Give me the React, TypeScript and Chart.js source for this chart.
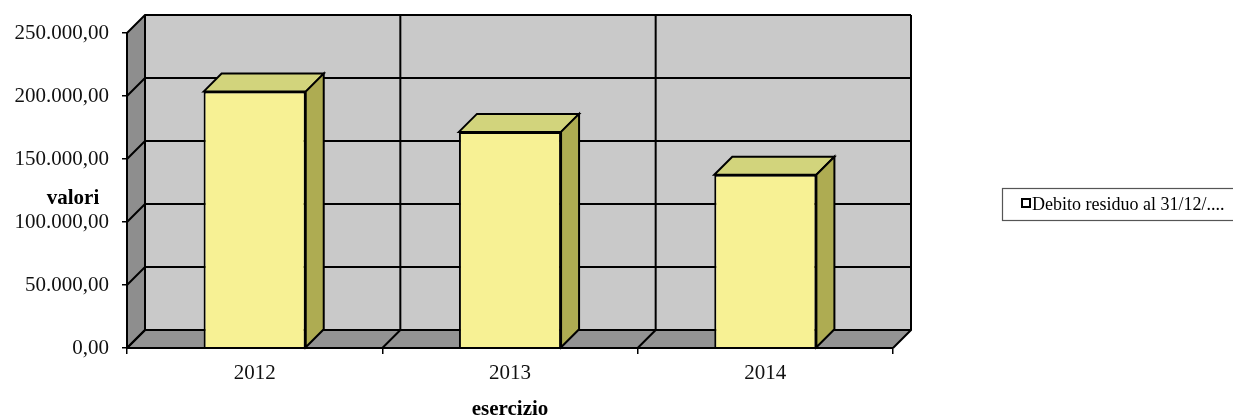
import React, { useEffect, useRef } from 'react';
import { Chart, registerables } from 'chart.js';

Chart.register(...registerables);

const categories = ['2012', '2013', '2014'];
const debitoResiduo = [203500, 171500, 137500];
const yTickValues = [0, 50000, 100000, 150000, 200000, 250000];
const seriesLabel = 'Debito residuo al 31/12/....';
const yTitle = 'valori';
const xTitle = 'esercizio';

const DX = 18;
const DY = 18;
const FONT = '"Liberation Serif", "Times New Roman", serif';

const fmt = (v: number) => {
  const [i, d] = v.toFixed(2).split('.');
  return i.replace(/\B(?=(\d{3})+(?!\d))/g, '.') + ',' + d;
};

const poly = (ctx: CanvasRenderingContext2D, pts: number[][], fill?: string, stroke?: string, lw = 1.5) => {
  ctx.beginPath();
  ctx.moveTo(pts[0][0], pts[0][1]);
  for (let i = 1; i < pts.length; i++) ctx.lineTo(pts[i][0], pts[i][1]);
  ctx.closePath();
  if (fill) { ctx.fillStyle = fill; ctx.fill(); }
  if (stroke) { ctx.strokeStyle = stroke; ctx.lineWidth = lw; ctx.stroke(); }
};

const line = (ctx: CanvasRenderingContext2D, pts: number[][], color = '#000', lw = 1.5) => {
  ctx.beginPath();
  ctx.moveTo(pts[0][0], pts[0][1]);
  for (let i = 1; i < pts.length; i++) ctx.lineTo(pts[i][0], pts[i][1]);
  ctx.strokeStyle = color;
  ctx.lineWidth = lw;
  ctx.stroke();
};

const threeD = {
  id: 'threeD',
  beforeDatasetsDraw(chart: any) {
    const { ctx, chartArea } = chart;
    const { left, right, top, bottom } = chartArea;
    const y = chart.scales.y;
    ctx.save();
    // back wall
    ctx.fillStyle = '#c9c9c9';
    ctx.fillRect(left + DX, top - DY, right - left, bottom - top);
    // left wall
    poly(ctx, [[left, top], [left + DX, top - DY], [left + DX, bottom - DY], [left, bottom]], '#8e8e8e');
    // floor
    poly(ctx, [[left, bottom], [left + DX, bottom - DY], [right + DX, bottom - DY], [right, bottom]], '#939393');
    // horizontal gridlines
    yTickValues.forEach((v) => {
      const py = y.getPixelForValue(v);
      line(ctx, [[left, py], [left + DX, py - DY], [right + DX, py - DY]], '#000', 2);
    });
    // category separators
    const n = categories.length;
    const w = (right - left) / n;
    for (let i = 0; i <= n; i++) {
      const bx = left + i * w;
      line(ctx, [[bx + DX, top - DY], [bx + DX, bottom - DY], [bx, bottom]], '#000', 2);
    }
    ctx.restore();
  },
  afterDatasetsDraw(chart: any) {
    const { ctx, chartArea } = chart;
    const { left, right, top, bottom } = chartArea;
    ctx.save();
    const meta = chart.getDatasetMeta(0);
    meta.data.forEach((bar: any) => {
      const p = bar.getProps(['x', 'y', 'base', 'width'], true);
      const l = p.x - p.width / 2;
      const r = p.x + p.width / 2;
      poly(ctx, [[l, p.y], [l + DX, p.y - DY], [r + DX, p.y - DY], [r, p.y]], '#d2d47c', '#000', 2);
      poly(ctx, [[r, p.y], [r + DX, p.y - DY], [r + DX, p.base - DY], [r, p.base]], '#aeac52', '#000', 2);
    });
    // front axes
    line(ctx, [[left, top], [left, bottom], [right, bottom]], '#000', 2);
    // axis titles
    ctx.fillStyle = '#000';
    ctx.font = 'bold 21px ' + FONT;
    ctx.textAlign = 'center';
    ctx.textBaseline = 'middle';
    ctx.fillText(yTitle, 73, 199);
    ctx.fillText(xTitle, (left + right) / 2, 410);
    // legend
    ctx.fillStyle = '#ffffff';
    ctx.fillRect(1002, 188, 240, 32);
    ctx.strokeStyle = '#555';
    ctx.lineWidth = 1.2;
    ctx.strokeRect(1002.5, 188.5, 240, 32);
    ctx.fillStyle = '#ffffff';
    ctx.fillRect(1021, 198, 9, 9);
    ctx.strokeStyle = '#000';
    ctx.lineWidth = 2;
    ctx.strokeRect(1022, 199, 8, 8);
    ctx.fillStyle = '#000';
    ctx.font = '18px ' + FONT;
    ctx.textAlign = 'left';
    ctx.fillText(seriesLabel, 1032, 205);
    ctx.restore();
  },
};

export default function App() {
  const ref = useRef<HTMLCanvasElement | null>(null);
  useEffect(() => {
    document.body.style.margin = '0';
    const canvas = ref.current;
    if (!canvas) return;
    const chart = new Chart(canvas, {
      type: 'bar',
      data: {
        labels: categories,
        datasets: [
          {
            label: seriesLabel,
            data: debitoResiduo,
            backgroundColor: '#f7f194',
            borderColor: '#000',
            borderWidth: 2,
            barPercentage: 0.4,
            categoryPercentage: 1,
          },
        ],
      },
      options: {
        responsive: false,
        animation: false,
        devicePixelRatio: 1,
        layout: { padding: { left: 0, top: 33, right: 340, bottom: 0 } },
        plugins: { legend: { display: false }, tooltip: { enabled: false } },
        scales: {
          x: {
            afterFit: (s: any) => { s.height = 71; },
            grid: { display: true, drawOnChartArea: false, drawTicks: true, tickLength: 6, color: '#000', lineWidth: 1.5, offset: true },
            border: { display: true, color: '#000', width: 2 },
            ticks: { color: '#111', font: { family: FONT, size: 21 }, padding: 7, maxRotation: 0 },
          },
          y: {
            min: 0,
            max: 250000,
            afterFit: (s: any) => { s.width = 127; },
            afterBuildTicks: (s: any) => { s.ticks = yTickValues.map((v) => ({ value: v })); },
            grid: { display: true, drawOnChartArea: false, drawTicks: true, tickLength: 5, color: '#000', lineWidth: 1.5 },
            border: { display: true, color: '#000', width: 2 },
            ticks: { color: '#111', font: { family: FONT, size: 21 }, padding: 13, callback: (v: any) => fmt(Number(v)) },
          },
        },
      },
      plugins: [threeD],
    });
    return () => chart.destroy();
  }, []);
  return (
    <div style={{ width: 1233, height: 419 }}>
      <canvas ref={ref} width={1233} height={419} />
    </div>
  );
}
